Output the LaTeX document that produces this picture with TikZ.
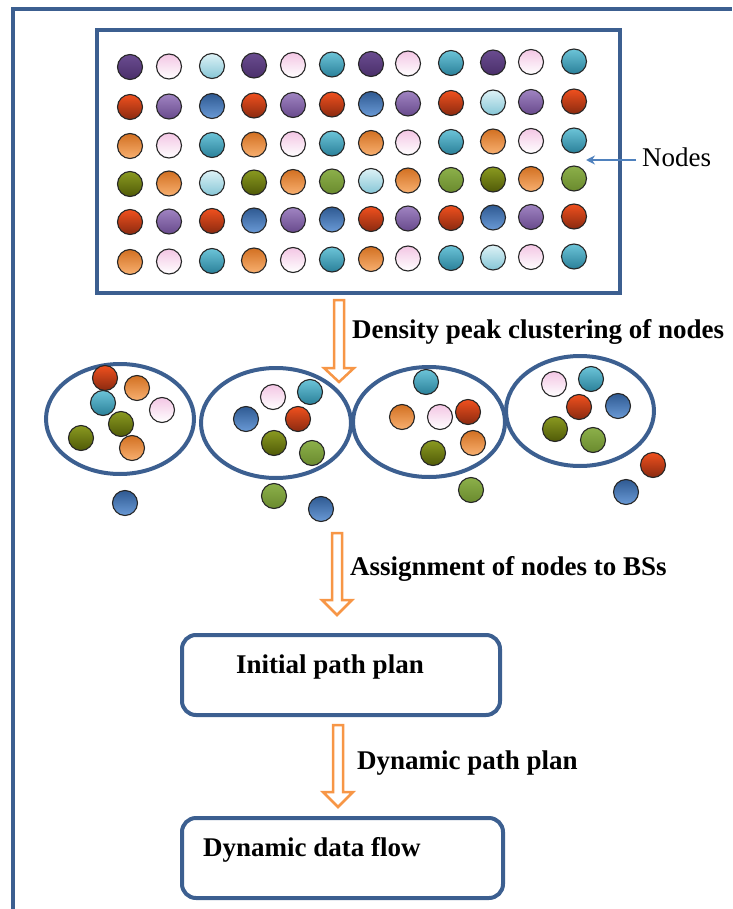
\documentclass[tikz,border=0pt]{standalone}
\usepackage{fontspec}
\setmainfont{Liberation Serif}
\usetikzlibrary{arrows.meta}
\definecolor{marco}{HTML}{3C5F90}
\definecolor{naranjaflecha}{HTML}{F79646}
\definecolor{azulflecha}{HTML}{4F81BD}
\definecolor{moradoA}{HTML}{6A4C90}
\definecolor{moradoB}{HTML}{4A2F6A}
\definecolor{rosadoA}{HTML}{F3C6E4}
\definecolor{rosadoB}{HTML}{FFFFFF}
\definecolor{celesteA}{HTML}{DDF2F6}
\definecolor{celesteB}{HTML}{86C6D6}
\definecolor{turquesaA}{HTML}{6CC4D8}
\definecolor{turquesaB}{HTML}{2A8099}
\definecolor{rojoA}{HTML}{F0501E}
\definecolor{rojoB}{HTML}{8A2A10}
\definecolor{lilaA}{HTML}{A084C2}
\definecolor{lilaB}{HTML}{684A8C}
\definecolor{azulA}{HTML}{2F5A92}
\definecolor{azulB}{HTML}{6A9AD6}
\definecolor{naranjoA}{HTML}{D27022}
\definecolor{naranjoB}{HTML}{F8B070}
\definecolor{olivaA}{HTML}{8A9A20}
\definecolor{olivaB}{HTML}{505A08}
\definecolor{verdeA}{HTML}{8CB04A}
\definecolor{verdeB}{HTML}{6A8A2E}

\begin{document}
\begin{tikzpicture}[x=1pt,y=-1pt,
  bola/.style={top color=#1A, bottom color=#1B, draw=black!85, line width=1.1pt},
  borde/.style={draw=marco, line width=4pt},
  etapa/.style={borde, rounded corners=14pt, minimum width=318pt, minimum height=80pt, inner sep=0pt},
  flecha/.style={draw=naranjaflecha, line width=2.5pt, fill=white, line join=miter},
  texto/.style={font=\fontsize{27}{32}\selectfont\bfseries, inner sep=0pt}]

  \useasboundingbox (0,0) rectangle (732,909);

  \draw[draw=marco, line width=3.5pt] (13,909) |- (732,9);

  \node[borde, minimum width=523pt, minimum height=263pt, inner sep=0pt] (campo) at (358.5,161.5) {};

  \foreach \fila [count=\j from 0] in {%
      {morado,rosado,celeste,morado,rosado,turquesa,morado,rosado,turquesa,morado,rosado,turquesa},
      {rojo,lila,azul,rojo,lila,rojo,azul,lila,rojo,celeste,lila,rojo},
      {naranjo,rosado,turquesa,naranjo,rosado,turquesa,naranjo,rosado,turquesa,naranjo,rosado,turquesa},
      {oliva,naranjo,celeste,oliva,naranjo,verde,celeste,naranjo,verde,oliva,naranjo,verde},
      {rojo,lila,rojo,azul,lila,azul,rojo,lila,rojo,azul,lila,rojo},
      {naranjo,rosado,turquesa,naranjo,rosado,turquesa,naranjo,rosado,turquesa,celeste,rosado,turquesa}}
    \foreach \c [count=\i from 0] in \fila {
      \pgfmathsetmacro\px{{130,169,212,254,293,332,371,408,451,493,531,574}[\i]}
      \pgfmathsetmacro\py{{67,107,146,184,222,262}[\j]-0.5*\i}
      \shadedraw[bola=\c] (\px,\py) circle [radius=12.5];
    }

  \coordinate (punta) at (586,160);
  \node[font=\fontsize{27}{32}\selectfont, anchor=base west, inner sep=0pt] (etiqueta) at (642,167) {Nodes};
  \draw[draw=azulflecha, line width=1.5pt, -{Stealth[length=9pt,width=9pt]}] (punta -| etiqueta.west) ++(-6,0) -- (punta);

  \foreach \cx/\ya/\yb/\yc in {339/300/368/382,337/533/600/615,338/725/792/807}
    \draw[flecha] (\cx-5,\ya) -- (\cx-5,\yb) -- (\cx-15,\yb) -- (\cx,\yc) -- (\cx+15,\yb) -- (\cx+5,\yb) -- (\cx+5,\ya) -- cycle;

  \node[texto, anchor=base west] (densidad) at (352,338) {Density peak clustering of nodes};
  \node[texto, anchor=base west] (asignacion) at (350,575) {Assignment of nodes to BSs};
  \node[texto, anchor=base west] (dinamico) at (357,769) {Dynamic path plan};

  \draw[borde] (120,419) ellipse [x radius=74, y radius=55];
  \draw[borde] (276,423) ellipse [x radius=75, y radius=55];
  \draw[borde] (429,422) ellipse [x radius=76, y radius=55];
  \draw[borde] (580,411) ellipse [x radius=74, y radius=55];

  \foreach \px/\py/\c in {105/378/rojo,137/388/naranjo,103/403/turquesa,162/410/rosado,
      121/424/oliva,81/438/oliva,132/448/naranjo,125/503/azul,
      273/397/rosado,310/392/turquesa,246/419/azul,298/419/rojo,274/443/oliva,
      312/453/verde,274/496/verde,321/509/azul,
      426/382/turquesa,402/417/naranjo,440/417/rosado,468/412/rojo,473/443/naranjo,
      433/453/oliva,471/490/verde,
      554/384/rosado,591/379/turquesa,579/407/rojo,618/406/azul,555/429/oliva,
      593/440/verde,653/465/rojo,626/492/azul}
    \shadedraw[bola=\c] (\px,\py) circle [radius=12.5];

  \node[etapa] (inicial) at (341,675) {};
  \node[texto, anchor=base west] (tinicial) at (236,673) {Initial path plan};

  \node[etapa, minimum width=321pt] (flujo) at (342.5,858) {};
  \node[texto, anchor=base west] (tflujo) at (203,856) {Dynamic data flow};

\end{tikzpicture}
\end{document}
